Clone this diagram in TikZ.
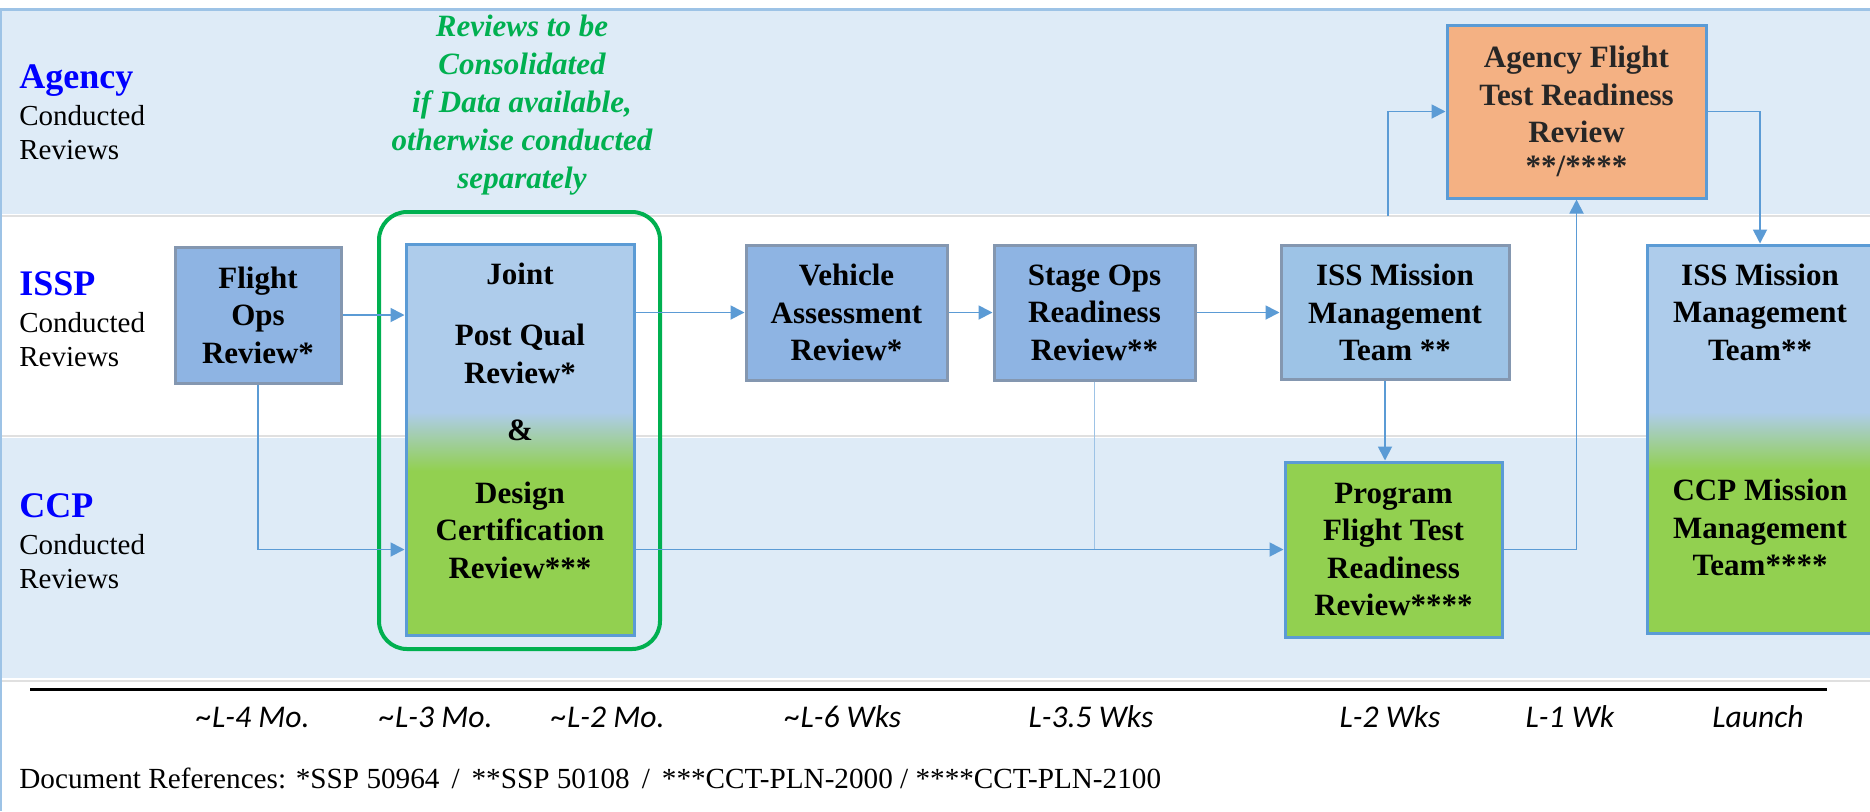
\documentclass[tikz,border=0pt]{standalone}
\usepackage{fontspec}
\setmainfont{Liberation Serif}
\newfontfamily\timefont{Carlito}
\usetikzlibrary{arrows.meta,positioning}
\definecolor{laneblue}{RGB}{222,235,247}
\definecolor{frameblue}{RGB}{157,195,230}
\definecolor{boxblue}{RGB}{142,180,227}
\definecolor{mmtblue}{RGB}{157,195,230}
\definecolor{paleblue}{RGB}{174,204,235}
\definecolor{boxgray}{RGB}{132,151,176}
\definecolor{edgeblue}{RGB}{91,155,213}
\definecolor{ccpgreen}{RGB}{146,208,80}
\definecolor{revorange}{RGB}{244,177,131}
\definecolor{consgreen}{RGB}{0,176,80}
\definecolor{lanetext}{RGB}{0,0,255}
\pgfdeclareverticalshading{bluetogreen}{100bp}{color(0bp)=(ccpgreen); color(46bp)=(ccpgreen);
  color(53.5bp)=(paleblue); color(100bp)=(paleblue)}
\newcommand{\boxfont}{\fontsize{15.5pt}{18.75pt}\selectfont\bfseries}
\tikzset{
  revbox/.style={draw=boxgray, line width=1.5pt, fill=boxblue, inner sep=0pt,
                 align=center, font=\boxfont},
  mmtbox/.style={revbox, fill=mmtblue},
  ccpbox/.style={revbox, draw=edgeblue, fill=ccpgreen},
  agbox/.style={revbox, draw=edgeblue, fill=revorange, text=black!85},
  mixbox/.style={revbox, draw=edgeblue, shading=bluetogreen},
  boxtext/.style={inner sep=0pt, align=center, font=\boxfont},
  consframe/.style={draw=consgreen, line width=2pt, rounded corners=14pt, inner sep=0pt},
  constext/.style={inner sep=0pt, align=center, text=consgreen,
                   font=\fontsize{15.5pt}{19pt}\selectfont\bfseries\itshape},
  flow/.style={-{Triangle[length=7pt,width=7pt]}, edgeblue, line width=0.9pt},
  flowlight/.style={frameblue, line width=0.9pt},
  lanehead/.style={anchor=base west, inner sep=0pt, text=lanetext,
                   font=\fontsize{18pt}{20pt}\selectfont\bfseries},
  lanesub/.style={anchor=base west, inner sep=0pt, font=\fontsize{14.5pt}{16pt}\selectfont},
  timelbl/.style={anchor=base, inner sep=0pt, font=\timefont\itshape\fontsize{15.8pt}{18pt}\selectfont},
}

\begin{document}
\begin{tikzpicture}[x=0.5pt, y=-0.5pt]
    \useasboundingbox (0,0) rectangle (1870,811);
    \fill[white] (0,0) rectangle (1870,811);
    % swim lanes
    \fill[laneblue] (0,10) rectangle (1870,214);
    \fill[laneblue] (0,438) rectangle (1870,678);
    \draw[black!12, line width=0.6pt] (0,216) -- (1870,216) (0,436) -- (1870,436) (0,681) -- (1870,681);
    \draw[frameblue, line width=1.5pt] (0,9) -- (1870,9);
    \draw[frameblue, line width=1pt] (1,9) -- (1,811);
    \foreach \name/\y in {Agency/88, ISSP/295, CCP/517} {
      \node[lanehead] (lane-\name) at (19,\y) {\name};
      \node[lanesub] (cond-\name) at (19,\y+37) {Conducted};
      \node[lanesub] (rev-\name) at (19,\y+71) {Reviews};
    }
    % consolidated reviews
    \node[consframe, minimum width=140.5pt, minimum height=218.5pt] (cons) at (519.5,430.5) {};
    \node[constext] (constext) at (522,105)
      {Reviews to be\\Consolidated\\if Data available,\\otherwise conducted\\separately};
    % review boxes
    \node[revbox, minimum width=83pt, minimum height=68pt] (flight) at (258,315) {Flight\\Ops\\Review*};
    \node[mixbox, minimum width=114pt, minimum height=195.5pt] (joint) at (520,439.5) {};
    \node[boxtext] (jointtext) at (520,420.5)
      {Joint\\[12pt]Post Qual\\Review*\\[10pt]\&\\[12.5pt]Design\\Certification\\Review***};
    \node[revbox, minimum width=100.5pt, minimum height=67.5pt] (vehicle) at (846.5,312.5) {Vehicle\\Assessment\\Review*};
    \node[revbox, minimum width=100.5pt, minimum height=67.5pt] (stage) at (1094.5,312.5) {Stage Ops\\Readiness\\Review**};
    \node[mmtbox, minimum width=114pt, minimum height=67pt] (issmmt) at (1395,312.5) {ISS Mission\\Management\\Team **};
    \node[agbox, minimum width=129.5pt, minimum height=86.5pt] (aftrr) at (1576.5,111.5)
      {Agency Flight\\Test Readiness\\Review\\[-2pt]**/****};
    \node[ccpbox, minimum width=108.5pt, minimum height=87.5pt] (pftrr) at (1393.5,549.5)
      {Program\\Flight Test\\Readiness\\Review****};
    \node[mixbox, minimum width=113pt, minimum height=194pt] (mmt) at (1760,439) {};
    \node[boxtext] (mmt-iss) at (1760,312) {ISS Mission\\Management\\Team**};
    \node[boxtext] (mmt-ccp) at (1760,527.5) {CCP Mission\\Management\\Team****};
    % connectors
    \coordinate (lift) at (1388,216);
    \draw[flow] (flight.east) -- (flight.east -| joint.west);
    \draw[flow] (flight.south) |- (joint.west |- pftrr.west);
    \draw[flow] (joint.east |- vehicle.west) -- (vehicle.west);
    \draw[flow] (vehicle.east) -- (stage.west);
    \draw[flow] (stage.east) -- (issmmt.west);
    \draw[flowlight] (stage.south) -- (stage.south |- pftrr.west);
    \draw[flow] (joint.east |- pftrr.west) -- (pftrr.west);
    \draw[flow] ([xshift=-5pt]issmmt.south) -- ([xshift=-5pt]issmmt.south |- pftrr.north);
    \draw[flow] (pftrr.east) -| (aftrr.south);
    \draw[flow] (lift) |- (aftrr.west);
    \draw[flow] (aftrr.east) -| (mmt.north);
    % time line
    \coordinate (tl-start) at (30,689);
    \coordinate (tl-end) at (1827,689);
    \draw[line width=1.5pt] (tl-start) -- (tl-end);
    \foreach \x/\t [count=\i] in {253/{\textasciitilde L-4 Mo.}, 436/{\textasciitilde L-3 Mo.},
        608/{\textasciitilde L-2 Mo.}, 843/{\textasciitilde L-6 Wks}, 1091/{L-3.5 Wks},
        1390/{L-2 Wks}, 1570/{L-1 Wk}, 1758/{Launch}}
      \node[timelbl] (t\i) at (\x,727) {\t};
    \node[anchor=base west, inner sep=0pt, font=\fontsize{14.6pt}{16pt}\selectfont] (docref) at (19,788)
      {Document References: *SSP 50964\hspace{6pt}/\hspace{6pt}**SSP 50108\hspace{6pt}/\hspace{6pt}***CCT-PLN-2000 / ****CCT-PLN-2100};
\end{tikzpicture}
\end{document}
